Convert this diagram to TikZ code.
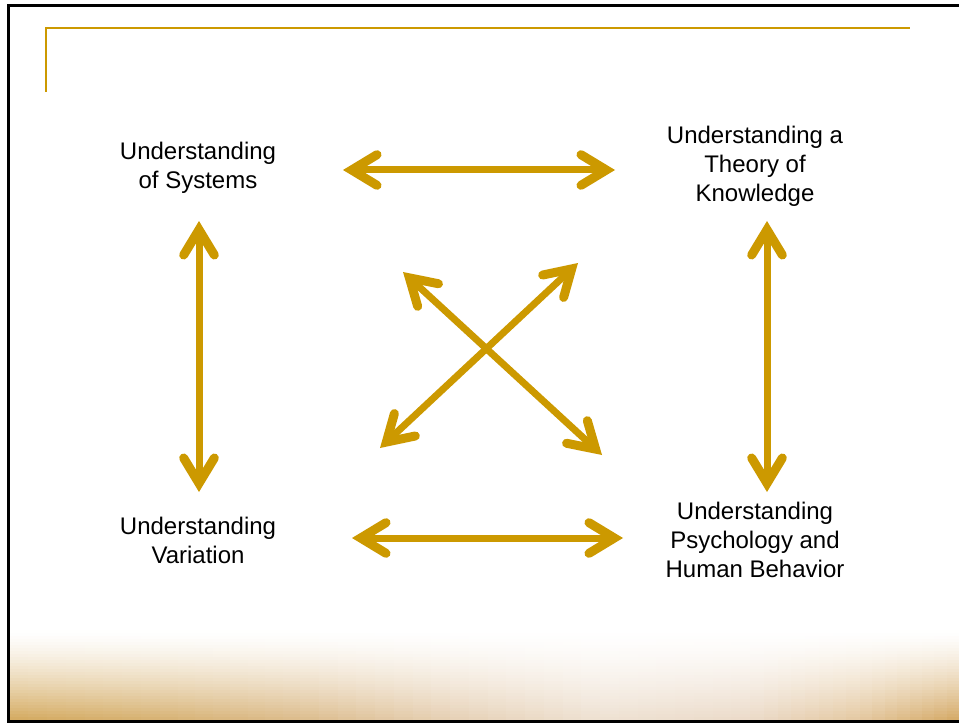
\documentclass[tikz,border=0pt]{standalone}
\usepackage{fontspec}
\setmainfont{Liberation Sans}
\usetikzlibrary{arrows.meta,calc}

\definecolor{gold}{HTML}{CC9900}
\definecolor{bandA}{RGB}{212,170,95}
\definecolor{bandB}{RGB}{215,178,115}
\definecolor{bandC}{RGB}{220,188,140}
\definecolor{bandD}{RGB}{230,208,180}
\definecolor{bandE}{RGB}{238,225,210}
\definecolor{bandF}{RGB}{235,218,200}
\definecolor{bandG}{RGB}{228,200,160}
\definecolor{bandH}{RGB}{212,168,100}

\tikzset{
  barb/.tip={Straight Barb[length=19pt, width=23pt, line width=6.75pt, line cap=round, line join=miter]}
}

\begin{document}
\begin{tikzpicture}[
  x=0.75pt, y=-0.75pt,
  topic/.style={align=center, inner sep=0pt, font=\fontsize{18}{21.75}\selectfont},
  link/.style={gold, line width=5.25pt, barb-barb}
]
\useasboundingbox (0,0) rectangle (959,723);

% bottom strip: colour runs left to right, fades to white upwards
\foreach \ca/\cb/\xa/\xb in {bandA/bandB/9/160, bandB/bandC/160/300, bandC/bandD/300/450,
    bandD/bandE/450/600, bandE/bandF/600/750, bandF/bandG/750/860, bandG/bandH/860/959} {
  \foreach \s in {0,...,7} {
    \pgfmathsetmacro{\xl}{\xa+(\xb-\xa)*\s/8}
    \pgfmathsetmacro{\xr}{\xa+(\xb-\xa)*(\s+1)/8+0.8}
    \pgfmathsetmacro{\p}{(\s+0.5)*12.5}
    \foreach \r in {0,...,29} {
      \pgfmathsetmacro{\a}{100*((\r+0.5)/30)^1.4}
      \fill[\cb!\p!\ca!\a!white] (\xl,630+3*\r) rectangle (\xr,633.8+3*\r);
    }
  }
}

% frame and corner rule
\begin{scope}
\clip (0,0) rectangle (959,723);
\draw[line width=2.25pt] (8,6) rectangle (975,721);
\end{scope}
\draw[gold, line width=1.5pt] (46,92) -- (46,28) -- (910,28);

% the four topics
\node[topic] (sys) at (198,167.5) {Understanding\\of Systems};
\node[topic] (tok) at (755,166) {Understanding a\\Theory of\\Knowledge};
\node[topic] (var) at (198,540) {Understanding\\Variation};
\node[topic] (psy) at (755,540) {Understanding\\Psychology and\\Human Behavior};

% links between every pair
\draw[link] ($(sys)+(145,2.5)$) -- ($(tok)+(-140,4)$);
\draw[link] ($(var)+(154,-2)$) -- ($(psy)+(-132,-2)$);
\draw[link] ($(sys)+(1,53.5)$) -- ($(var)+(1,-48)$);
\draw[link] ($(tok)+(12,55)$) -- ($(psy)+(12,-48)$);
\draw[link] ($(sys)+(205,104.5)$) -- ($(psy)+(-153,-85)$);
\draw[link] ($(tok)+(-177,97)$) -- ($(var)+(182,-92)$);
\end{tikzpicture}
\end{document}
